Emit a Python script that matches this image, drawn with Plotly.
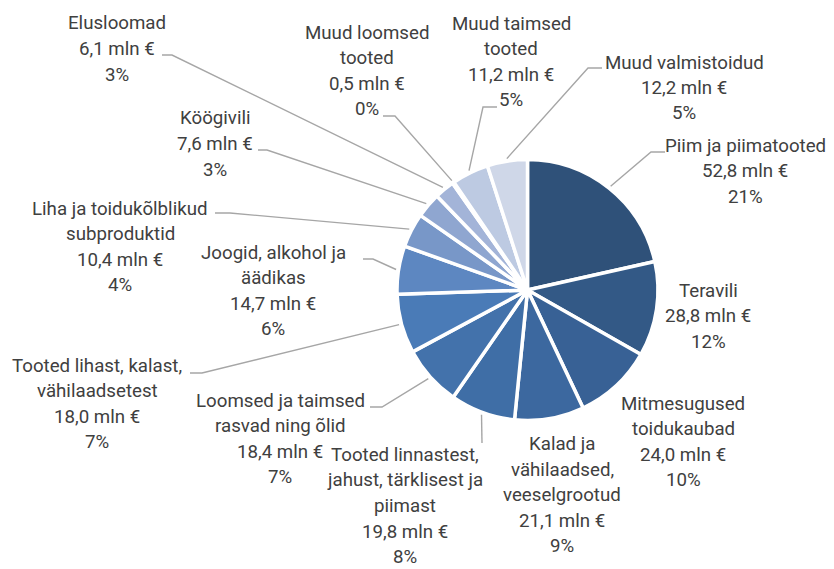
import math
import plotly.graph_objects as go

# ---------------- data ----------------
categories = [
    "Piim ja piimatooted",
    "Teravili",
    "Mitmesugused<br>toidukaubad",
    "Kalad ja<br>vähilaadsed,<br>veeselgrootud",
    "Tooted linnastest,<br>jahust, tärklisest ja<br>piimast",
    "Loomsed ja taimsed<br>rasvad ning õlid",
    "Tooted lihast, kalast,<br>vähilaadsetest",
    "Joogid, alkohol ja<br>äädikas",
    "Liha ja toidukõlblikud<br>subproduktid",
    "Köögivili",
    "Elusloomad",
    "Muud loomsed<br>tooted",
    "Muud taimsed<br>tooted",
    "Muud valmistoidud",
]
values_mln = [52.8, 28.8, 24.0, 21.1, 19.8, 18.4, 18.0, 14.7, 10.4, 7.6, 6.1, 0.5, 11.2, 12.2]
percent_labels = [21, 12, 10, 9, 8, 7, 7, 6, 4, 3, 3, 0, 5, 5]

# ---------------- styles / layout ----------------
W, H = 834, 569
OFF = 8  # page body margin in the browser
CX, CY, R = 527.5, 290.0, 130.5
colors = ["#2F5179", "#335986", "#386195", "#3C689F", "#3F6EA6", "#4372AB", "#4A7BB7",
          "#5D87C1", "#7897C8", "#8FA6D0", "#A3B4D8", "#B0BFDD", "#BDCAE2", "#CFD7E8"]
TEXT_COLOR = "#404040"
LINE_COLOR = "#A6A6A6"
FONT = "Roboto, 'Open Sans', sans-serif"
FS = 18.7
LH = 25.5  # line spacing, px

# label block centers (page px)
label_pos = [(745, 171), (708, 316), (683, 442), (562, 495), (405, 506), (280, 439),
             (97, 404), (273, 291), (120, 247), (215, 144), (117, 49), (367, 71),
             (511, 62), (684, 88)]
# leader line: (text-side start, elbow) in page px, or None
leaders = [((665, 152), (651, 152)), None, None, None, ((482, 443), None),
           ((370, 407), (382, 407)), ((190, 373), (202, 373)), ((363, 259), (373, 259)),
           ((215, 213), (230, 213)), ((258, 150), (267, 150)), ((162, 55), (172, 55)),
           ((383, 116), (395, 116)), ((497, 107), (483, 107)), ((602, 68), (588, 68))]


def px2paper(x, y):
    return (x - OFF) / W, 1 - (y - OFF) / H


fig = go.Figure()
dx0, dy0 = px2paper(CX - R, CY + R)
dx1, dy1 = px2paper(CX + R, CY - R)
fig.add_trace(go.Pie(
    labels=[c.replace("<br>", " ") for c in categories],
    values=values_mln,
    sort=False,
    direction="clockwise",
    rotation=0,
    textinfo="none",
    marker=dict(colors=colors, line=dict(color="white", width=3.5)),
    domain=dict(x=[dx0, dx1], y=[dy0, dy1]),
    showlegend=False,
    hoverinfo="label+value+percent",
))

total = sum(values_mln)
cum = 0.0
annotations = []
shapes = []
for i, (name, v, p) in enumerate(zip(categories, values_mln, percent_labels)):
    mid = (cum + v / 2) / total * 2 * math.pi
    cum += v
    ax = CX + math.sin(mid) * (R + 2.5)
    ay = CY - math.cos(mid) * (R + 2.5)
    vtxt = f"{v:.1f}".replace(".", ",")
    lines = name.split("<br>") + [f"{vtxt} mln €", f"{p}%"]
    cx, cy = label_pos[i]
    n = len(lines)
    for k, ln in enumerate(lines):
        ly_px = cy + (k - (n - 1) / 2) * LH
        lx, ly = px2paper(cx, ly_px)
        annotations.append(dict(x=lx, y=ly, xref="paper", yref="paper", text=ln,
                                showarrow=False, xanchor="center", yanchor="middle",
                                align="center", borderpad=0,
                                font=dict(family=FONT, size=FS, color=TEXT_COLOR)))
    if leaders[i] is not None:
        start, elbow = leaders[i]
        pts = [start] + ([elbow] if elbow else []) + [(ax, ay)]
        pp = [px2paper(x, y) for x, y in pts]
        path = "M " + " L ".join(f"{x:.5f},{y:.5f}" for x, y in pp)
        shapes.append(dict(type="path", path=path, xref="paper", yref="paper",
                           line=dict(color=LINE_COLOR, width=1.4)))

fig.update_layout(
    width=W, height=H,
    margin=dict(l=0, r=0, t=0, b=0),
    paper_bgcolor="white", plot_bgcolor="white",
    annotations=annotations,
    shapes=shapes,
    showlegend=False,
)

fig.write_html("out.html")
